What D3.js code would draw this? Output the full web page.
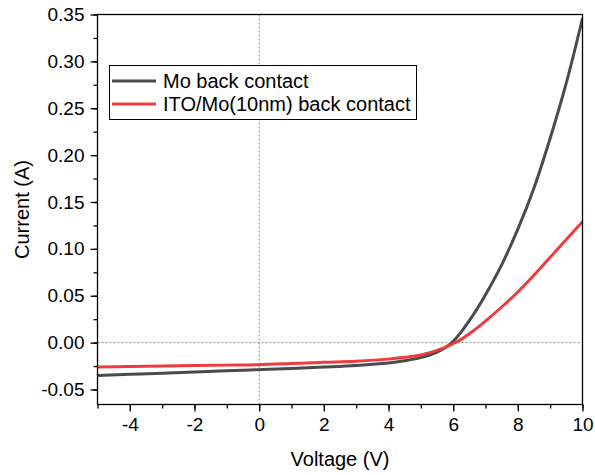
<!DOCTYPE html>
<html>
<head>
<meta charset="utf-8">
<script src="https://cdn.jsdelivr.net/npm/d3@7"></script>
<style>
  body { margin: 0; background: #fff; }
  text { font-family: "Liberation Sans", Arial, sans-serif; fill: #000; }
</style>
</head>
<body>
<svg width="595" height="475"></svg>
<script>

// voltage (V) and current (A)
let voltage = [-5, -4, -3, -2, -1, 0, 1, 2, 3, 4, 4.5, 5, 5.25, 5.5, 5.75, 6, 6.25, 6.5, 6.75, 7, 7.5, 8, 8.5, 9, 9.5, 10]
let currentMo = [-0.035, -0.0338, -0.0326, -0.0313, -0.030, -0.0288, -0.0275, -0.026, -0.0243, -0.0217, -0.0193, -0.016, -0.0135, -0.0102, -0.0055, 0.0015, 0.0115, 0.0235, 0.0365, 0.051, 0.083, 0.121, 0.165, 0.218, 0.277, 0.346]
let currentITO = [-0.026, -0.0255, -0.025, -0.0245, -0.024, -0.0235, -0.0223, -0.021, -0.0198, -0.0176, -0.0157, -0.0132, -0.0110, -0.0083, -0.0050, -0.001, 0.0035, 0.0095, 0.016, 0.023, 0.038, 0.054, 0.072, 0.091, 0.110, 0.129]

let seriesNames = ['Mo back contact', 'ITO/Mo(10nm) back contact']
let seriesColors = ['#4b4b4b', '#f03a3d']

let xTicks = [-4, -2, 0, 2, 4, 6, 8, 10]
let yTicks = [-0.05, 0, 0.05, 0.10, 0.15, 0.20, 0.25, 0.30, 0.35]

let svg = d3.select('svg')
let pLeft = 97.5, pRight = 582.5, pTop = 14.5, pBottom = 404.5

let x = d3.scaleLinear().domain([-5, 10]).range([pLeft, pRight])
let y = d3.scaleLinear().domain([-0.066, 0.35]).range([pBottom, pTop])

// reference lines at zero
svg.append('line')
  .attr('x1', x(0)).attr('x2', x(0)).attr('y1', pTop).attr('y2', pBottom)
  .attr('stroke', '#888').attr('stroke-dasharray', '2,2').attr('stroke-width', 1)
svg.append('line')
  .attr('x1', pLeft).attr('x2', pRight).attr('y1', y(0)).attr('y2', y(0))
  .attr('stroke', '#888').attr('stroke-dasharray', '2,2').attr('stroke-width', 1)

let line = d3.line()
  .x(d => x(d[0]))
  .y(d => y(d[1]))
  .curve(d3.curveCatmullRom.alpha(0.5))

let series = [currentMo, currentITO]

svg.append('defs').append('clipPath').attr('id', 'clip')
  .append('rect').attr('x', pLeft).attr('y', pTop).attr('width', pRight - pLeft).attr('height', pBottom - pTop)

series.forEach((s, i) => {
  svg.append('path')
    .datum(voltage.map((v, j) => [v, s[j]]))
    .attr('fill', 'none')
    .attr('stroke', seriesColors[i])
    .attr('stroke-width', 3)
    .attr('clip-path', 'url(#clip)')
    .attr('d', line)
})

// frame
svg.append('rect')
  .attr('x', pLeft).attr('y', pTop).attr('width', pRight - pLeft).attr('height', pBottom - pTop)
  .attr('fill', 'none').attr('stroke', '#000').attr('stroke-width', 1.3)

// x axis
let xAxis = svg.append('g').attr('transform', `translate(0,${pBottom})`)
xAxis.append('g').call(d3.axisBottom(x).tickValues(d3.range(-5, 10.5, 1)).tickSize(4).tickFormat(''))
xAxis.append('g').call(d3.axisBottom(x).tickValues(xTicks).tickSize(7).tickPadding(6).tickFormat(d => d < 0 ? '-' + Math.abs(d) : d))
xAxis.selectAll('.domain').remove()
xAxis.selectAll('line').attr('stroke', '#000').attr('stroke-width', 1.3)
xAxis.selectAll('text').attr('font-size', 19).attr('fill', '#000')

// y axis
let yAxis = svg.append('g').attr('transform', `translate(${pLeft},0)`)
yAxis.append('g').call(d3.axisLeft(y).tickValues(d3.range(-0.05, 0.351, 0.025)).tickSize(4).tickFormat(''))
yAxis.append('g').call(d3.axisLeft(y).tickValues(yTicks).tickSize(7).tickPadding(6).tickFormat(d => d < 0 ? '-' + d3.format('.2f')(-d) : d3.format('.2f')(d)))
yAxis.selectAll('.domain').remove()
yAxis.selectAll('line').attr('stroke', '#000').attr('stroke-width', 1.3)
yAxis.selectAll('text').attr('font-size', 19).attr('fill', '#000')
svg.selectAll('g').attr('font-family', null)

// axis titles
svg.append('text')
  .attr('x', (pLeft + pRight) / 2).attr('y', 466)
  .attr('text-anchor', 'middle').attr('font-size', 20)
  .text('Voltage (V)')
svg.append('text')
  .attr('transform', `translate(29,${(pTop + pBottom) / 2}) rotate(-90)`)
  .attr('text-anchor', 'middle').attr('font-size', 20)
  .text('Current (A)')

// legend
let legend = svg.append('g')
legend.append('rect')
  .attr('x', 109.5).attr('y', 65.5).attr('width', 307).attr('height', 54)
  .attr('fill', '#fff').attr('stroke', '#000').attr('stroke-width', 1)
seriesNames.forEach((name, i) => {
  let yy = 81 + i * 23
  legend.append('line')
    .attr('x1', 112).attr('x2', 156).attr('y1', yy).attr('y2', yy)
    .attr('stroke', seriesColors[i]).attr('stroke-width', 3)
  legend.append('text')
    .attr('x', 163).attr('y', yy + 7)
    .attr('font-size', 20)
    .text(name)
})

</script>
</body>
</html>
